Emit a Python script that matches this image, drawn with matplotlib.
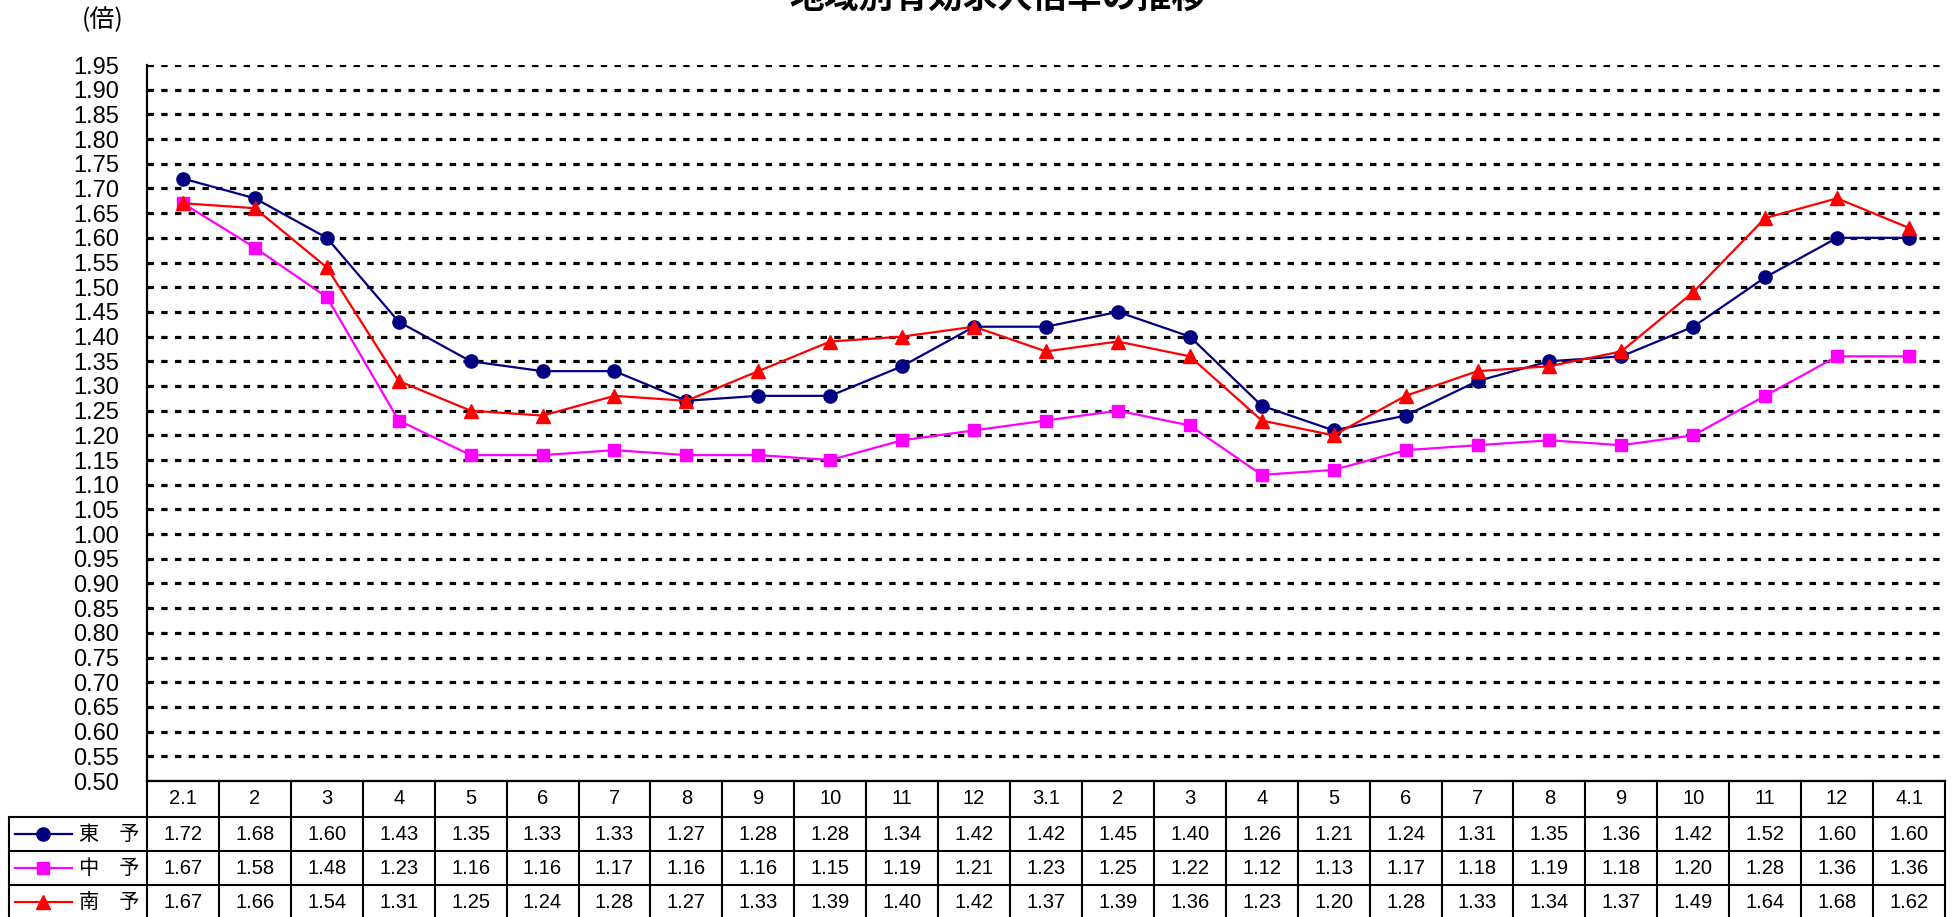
import matplotlib
matplotlib.use('Agg')
import matplotlib.pyplot as plt
import matplotlib.transforms as mtransforms
from matplotlib.lines import Line2D

plt.rcParams['font.family'] = ['Liberation Sans', 'Noto Sans CJK JP', 'DejaVu Sans']

# Monthly values (H2.1 - H4.1)
months = ['2.1', '2', '3', '4', '5', '6', '7', '8', '9', '10', '11', '12',
          '3.1', '2', '3', '4', '5', '6', '7', '8', '9', '10', '11', '12', '4.1']
east = [1.72, 1.68, 1.60, 1.43, 1.35, 1.33, 1.33, 1.27, 1.28, 1.28, 1.34, 1.42,
        1.42, 1.45, 1.40, 1.26, 1.21, 1.24, 1.31, 1.35, 1.36, 1.42, 1.52, 1.60, 1.60]
central = [1.67, 1.58, 1.48, 1.23, 1.16, 1.16, 1.17, 1.16, 1.16, 1.15, 1.19, 1.21,
           1.23, 1.25, 1.22, 1.12, 1.13, 1.17, 1.18, 1.19, 1.18, 1.20, 1.28, 1.36, 1.36]
south = [1.67, 1.66, 1.54, 1.31, 1.25, 1.24, 1.28, 1.27, 1.33, 1.39, 1.40, 1.42,
         1.37, 1.39, 1.36, 1.23, 1.20, 1.28, 1.33, 1.34, 1.37, 1.49, 1.64, 1.68, 1.62]
region_names = ['東　予', '中　予', '南　予']
yticks = [round(0.50 + 0.05 * i, 2) for i in range(30)]

W, H = 1957, 917
fig = plt.figure(figsize=(W / 100, H / 100), dpi=100)


def fy(py):
    # pixel row from top -> figure fraction
    return 1 - py / H


def fx(px):
    return px / W


ax_left, ax_right, ax_top, ax_bot = 147, 1945, 65, 781
ax = fig.add_axes([fx(ax_left), fy(ax_bot), fx(ax_right - ax_left), fy(ax_top) - fy(ax_bot)])

x = list(range(len(months)))
series = [
    (east, '#000080', 'o', 9.5),
    (central, '#FF00FF', 's', 9),
    (south, '#FF0000', '^', 10.5),
]
for vals, col, mk, ms in series:
    ax.plot(x, vals, color=col, lw=1.6, marker=mk, ms=ms, mec=col, mfc=col, zorder=3)

ax.set_xlim(-0.5, len(months) - 0.5)
ax.set_ylim(0.50, 1.95)
ax.set_yticks(yticks)
ax.set_yticklabels(['%.2f' % v for v in yticks], fontsize=17)
ax.tick_params(axis='y', length=0, pad=20)
ax.set_xticks([])
for v in yticks[1:]:
    ax.axhline(v, color='black', lw=2.3, ls=(0, (2.0, 2.3)), zorder=1)
for s in ['top', 'right']:
    ax.spines[s].set_visible(False)
ax.spines['left'].set_linewidth(1.6)
ax.spines['bottom'].set_linewidth(1.6)

# data table below the axes
tr = mtransforms.blended_transform_factory(ax.transData, fig.transFigure)
n = len(months)
lw = 1.5
row_lines = [781, 817, 851, 885, 919]
xl, xr = -0.5, n - 0.5
# horizontal lines
fig.add_artist(Line2D([xl, xr], [fy(781), fy(781)], transform=tr, color='black', lw=lw))
for py in row_lines[1:]:
    fig.add_artist(Line2D([fx(9), fx(ax_right)], [fy(py), fy(py)], transform=fig.transFigure,
                          color='black', lw=lw))
# vertical lines
for i in range(n + 1):
    fig.add_artist(Line2D([i - 0.5, i - 0.5], [fy(781), 0], transform=tr, color='black', lw=lw))
fig.add_artist(Line2D([fx(9), fx(9)], [fy(817), 0], transform=fig.transFigure, color='black', lw=lw))

for i, m in enumerate(months):
    fig.text(i, fy((781 + 817) / 2), m, transform=tr, ha='center', va='center', fontsize=14.5)

for r, (vals, col, mk, ms) in enumerate(series):
    yc = fy((row_lines[r + 1] + row_lines[r + 2]) / 2)
    for i, v in enumerate(vals):
        fig.text(i, yc, '%.2f' % v, transform=tr, ha='center', va='center', fontsize=14.5)
    fig.add_artist(Line2D([fx(15), fx(72)], [yc, yc], transform=fig.transFigure,
                          color=col, lw=1.6))
    fig.add_artist(Line2D([fx(43)], [yc], transform=fig.transFigure, color=col,
                          marker=mk, ms=ms, mec=col, mfc=col))
    fig.text(fx(79), yc, region_names[r], ha='left', va='center', fontsize=14.5,
             family=['Noto Sans CJK JP'])

fig.text(fx(103), fy(20), '(倍)', ha='center', va='center', fontsize=18,
         family=['Noto Sans CJK JP'])
fig.text(fx(998), fy(8), '地域別有効求人倍率の推移', ha='center', va='baseline',
         fontsize=25, fontweight='bold', family=['Noto Sans CJK JP'])

fig.savefig('out.png', dpi=100)
